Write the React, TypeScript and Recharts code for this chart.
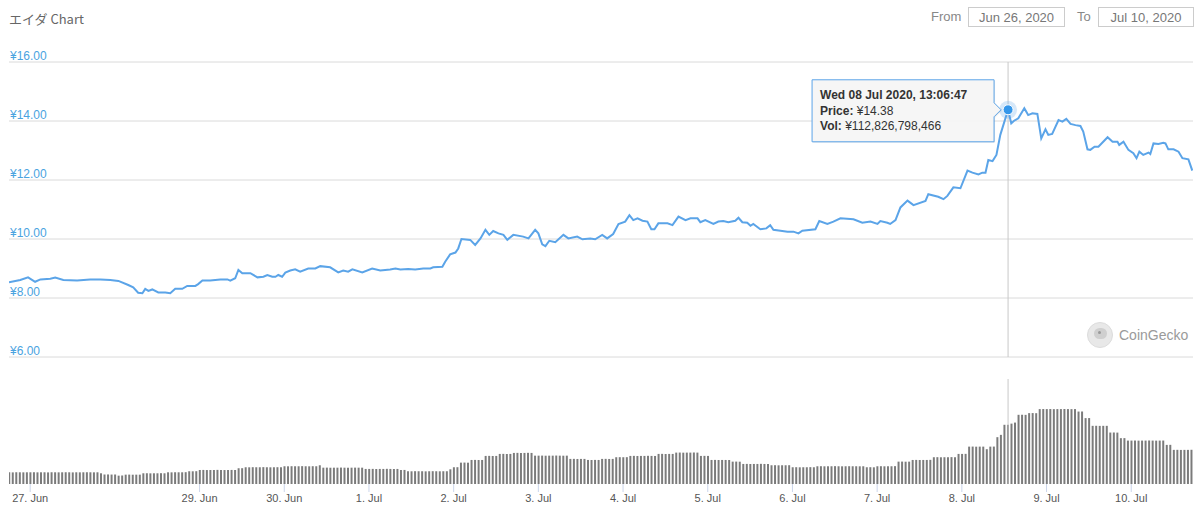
import React from 'react';
import { LineChart, Line, BarChart, Bar, XAxis, YAxis, CartesianGrid, ReferenceLine, ReferenceDot } from 'recharts';

// hours counted from 26 Jun 2020 00:00
const priceHours = [
  18, 21.2, 23.4, 25.4, 26.9, 29.7, 31.1, 33.4, 37.3, 41.0,
  43.9, 46.7, 49.0, 51.8, 53.2, 54.6, 55.8, 56.6, 57.5, 58.6,
  60.3, 62.3, 63.7, 65.1, 67.1, 68.5, 70.8, 71.6, 72.8, 75.0,
  77.9, 79.9, 80.7, 82.1, 83.0, 84.1, 86.4, 88.4, 90.1, 91.2,
  92.6, 93.5, 94.3, 95.4, 96.3, 97.7, 99.1, 100.5, 102.8, 104.8,
  106.2, 109.0, 111.3, 112.7, 114.1, 115.3, 118.1, 120.9, 123.2, 126.0,
  127.5, 128.9, 131.1, 133.1, 135.4, 137.4, 138.2, 140.8, 141.6, 143.0,
  144.5, 145.3, 146.2, 148.7, 150.1, 151.6, 153.0, 154.1, 155.2, 156.7,
  158.1, 159.2, 160.9, 163.7, 165.2, 167.1, 168.0, 169.1, 170.0, 171.1,
  172.8, 175.1, 176.5, 179.0, 180.5, 182.7, 184.1, 186.1, 187.5, 189.2,
  190.7, 192.6, 193.8, 194.9, 196.1, 197.5, 198.9, 200.0, 200.9, 202.0,
  204.6, 206.0, 207.7, 209.7, 211.1, 213.1, 213.9, 215.3, 217.6, 219.0,
  220.4, 221.8, 223.8, 224.7, 225.8, 227.2, 228.1, 228.9, 230.9, 232.6,
  233.7, 234.6, 236.6, 238.6, 240.3, 241.7, 242.8, 246.5, 247.6, 249.9,
  251.6, 253.6, 257.3, 259.8, 262.1, 264.1, 264.9, 266.9, 267.7, 269.2,
  270.6, 272.6, 274.3, 277.7, 278.5, 281.3, 282.8, 283.9, 285.6, 287.6,
  289.6, 291.0, 292.7, 293.8, 294.7, 295.5, 296.7, 297.8, 298.9, 301.1,
  302.0, 302.8, 304.0, 305.7, 306.8, 308.0, 309.4, 310.5, 311.7, 312.5,
  313.6, 315.4, 316.5, 317.6, 318.8, 320.2, 321.6, 322.4, 323.6, 324.4,
  325.6, 326.7, 329.3, 330.7, 332.1, 332.6, 333.8, 335.2, 336.6, 337.5,
  338.3, 339.4, 340.9, 341.4, 342.3, 343.7, 345.1, 345.7, 346.5, 348.0,
  349.4, 350.5, 352.2, 353.3,
];

const priceValues = [
  8.53, 8.61, 8.70, 8.55, 8.63, 8.65, 8.69, 8.61, 8.59, 8.63,
  8.63, 8.61, 8.58, 8.44, 8.36, 8.18, 8.16, 8.31, 8.24, 8.29,
  8.19, 8.19, 8.16, 8.31, 8.31, 8.41, 8.41, 8.47, 8.59, 8.59,
  8.63, 8.63, 8.59, 8.67, 8.95, 8.84, 8.84, 8.70, 8.72, 8.78,
  8.72, 8.72, 8.78, 8.72, 8.86, 8.93, 8.97, 8.89, 9.00, 9.00,
  9.08, 9.04, 8.87, 8.93, 8.89, 8.97, 8.87, 9.00, 8.93, 8.97,
  9.00, 8.97, 8.98, 8.97, 9.00, 9.00, 9.04, 9.06, 9.23, 9.48,
  9.54, 9.68, 10.00, 9.97, 9.80, 10.02, 10.31, 10.14, 10.27, 10.19,
  10.14, 9.97, 10.14, 10.08, 10.02, 10.31, 10.19, 9.82, 9.76, 9.94,
  9.89, 10.14, 10.02, 10.08, 9.99, 10.02, 9.99, 10.14, 10.02, 10.17,
  10.51, 10.59, 10.81, 10.64, 10.70, 10.62, 10.59, 10.33, 10.33, 10.53,
  10.53, 10.47, 10.76, 10.64, 10.70, 10.70, 10.57, 10.64, 10.51, 10.59,
  10.61, 10.57, 10.62, 10.72, 10.57, 10.55, 10.45, 10.51, 10.33, 10.36,
  10.47, 10.31, 10.28, 10.25, 10.25, 10.19, 10.28, 10.33, 10.61, 10.51,
  10.59, 10.70, 10.67, 10.55, 10.59, 10.51, 10.61, 10.55, 10.51, 10.64,
  11.07, 11.30, 11.15, 11.29, 11.52, 11.43, 11.35, 11.46, 11.75, 11.72,
  12.32, 12.25, 12.19, 12.25, 12.25, 12.68, 12.64, 12.85, 13.53, 14.38,
  13.92, 14.01, 14.09, 14.43, 14.20, 14.26, 14.24, 13.41, 13.72, 13.53,
  13.56, 14.03, 13.98, 14.07, 13.90, 13.86, 13.83, 13.64, 13.04, 13.02,
  13.13, 13.13, 13.45, 13.30, 13.30, 13.19, 13.30, 13.02, 12.91, 12.74,
  12.96, 12.85, 12.93, 12.88, 13.24, 13.22, 13.26, 13.24, 13.04, 13.04,
  12.96, 12.74, 12.70, 12.32,
];

// hourly volume in billions of yen, first bar at hour 18
const volumeStartHour = 18;
const volumeValues = [
  22.3, 22.1, 22.4, 22.3, 22.2, 22.3,
  22.3, 22.4, 22.2, 22.3, 22.3, 22.1, 22.4, 22.3, 22.2, 22.3, 22.4, 22.3, 22.1, 22.3, 22.2, 22.3, 22.4, 22.3, 22.2, 22.3, 20.4, 18.1, 18.2, 18.0,
  18.1, 15.9, 16.2, 17.8, 17.9, 17.7, 17.8, 17.8, 20.4, 20.5, 20.3, 20.4, 20.4, 20.6, 20.4, 22.3, 22.2, 22.4, 22.3, 22.3, 22.5, 24.3, 24.2, 24.4,
  26.7, 26.8, 26.6, 26.7, 26.7, 26.9, 26.7, 26.6, 26.7, 26.8, 26.7, 30.0, 30.1, 31.9, 31.8, 32.0, 31.9, 31.9, 32.1, 31.9, 31.8, 31.9, 32.0, 31.9,
  33.8, 33.7, 33.9, 33.8, 33.8, 34.0, 33.8, 33.7, 33.9, 33.8, 35.7, 31.1, 31.2, 31.0, 31.1, 31.1, 31.3, 31.1, 31.0, 31.1, 31.2, 31.1, 31.1, 28.7,
  28.7, 28.8, 28.6, 28.7, 28.7, 28.9, 28.7, 28.6, 28.7, 26.7, 26.8, 24.3, 24.2, 24.4, 24.3, 24.3, 24.1, 24.3, 24.4, 24.3, 24.2, 24.3, 24.3, 28.0,
  31.9, 32.0, 40.7, 40.8, 40.6, 45.8, 45.9, 45.7, 45.8, 53.5, 53.6, 53.4, 53.5, 57.3, 57.4, 57.2, 57.3, 59.2, 59.3, 59.1, 59.2, 59.4, 59.2, 54.0,
  54.0, 54.1, 53.9, 54.0, 54.0, 54.2, 54.0, 53.9, 54.0, 47.8, 47.9, 47.7, 47.8, 47.8, 45.8, 45.7, 45.9, 45.8, 47.8, 47.9, 47.7, 47.8, 51.0, 51.1,
  51.0, 51.1, 53.5, 53.6, 53.4, 53.5, 53.5, 53.7, 53.5, 53.4, 57.3, 57.4, 57.2, 57.3, 57.3, 59.8, 59.9, 59.7, 59.8, 59.8, 60.0, 59.8, 53.5, 53.6,
  53.5, 45.8, 45.9, 45.7, 45.8, 45.8, 45.7, 42.6, 42.7, 42.5, 38.2, 38.3, 38.1, 38.2, 38.2, 38.4, 38.2, 38.1, 35.7, 35.8, 35.6, 35.7, 35.7, 35.8,
  31.9, 32.0, 31.8, 31.9, 31.9, 32.1, 31.9, 33.8, 33.9, 33.7, 33.8, 33.8, 34.0, 33.8, 33.7, 33.8, 33.9, 33.8, 33.8, 33.7, 33.8, 31.9, 32.0, 31.8,
  33.8, 33.9, 33.7, 33.8, 33.8, 34.0, 42.6, 42.7, 42.5, 42.6, 45.8, 45.9, 45.7, 45.8, 45.8, 46.0, 51.0, 51.1, 50.9, 51.0, 51.0, 51.2, 51.0, 57.3,
  57.3, 57.4, 71.2, 71.3, 71.1, 71.2, 71.2, 66.3, 71.2, 71.3, 89.2, 93.6, 112.8, 112.8, 115.0, 117.0, 131.8, 131.9, 131.7, 135.0, 135.1, 134.9, 142.7, 142.8,
  142.7, 142.8, 142.6, 142.7, 142.7, 142.9, 142.7, 142.6, 142.7, 138.0, 138.1, 125.5, 125.6, 110.8, 110.9, 110.7, 110.8, 110.8, 98.0, 98.1, 97.9, 87.3, 87.4, 82.7,
  82.7, 82.8, 82.6, 82.7, 82.7, 82.9, 82.7, 82.6, 82.7, 82.8, 74.5, 74.6, 65.0, 65.1, 64.9, 65.0, 65.0, 65.2,
];

const tickHours = [24, 72, 96, 120, 144, 168, 192, 216, 240, 264, 288, 312, 336];
const tickLabels = ['27. Jun', '29. Jun', '30. Jun', '1. Jul', '2. Jul', '3. Jul', '4. Jul', '5. Jul', '6. Jul', '7. Jul', '8. Jul', '9. Jul', '10. Jul'];
const priceTicks = [6, 8, 10, 12, 14, 16];

const hover = { hour: 301.1, price: 14.38, label: 'Wed 08 Jul 2020, 13:06:47', vol: '¥112,826,798,466' };

const priceData = priceHours.map((h, i) => ({ h, price: priceValues[i] }));
const volumeData = volumeValues.map((v, i) => ({ h: volumeStartHour + i, v }));

const font = "'Liberation Sans', Arial, sans-serif";
const lineColor = '#5ba4e8';
const xDomain = [18, 353.5];

const priceLabel = (value: number) => (props: any) => {
  const vb = props.viewBox || {};
  return (
    <text x={(vb.x ?? 9) + 1} y={(vb.y ?? 0) - 2} fill="#4aa3df" fontSize={12} fontFamily={font}>
      {`¥${value.toFixed(2)}`}
    </text>
  );
};

const HoverMarker = (props: any) => {
  const { cx, cy } = props;
  const left = cx - 196;
  const right = cx - 14;
  return (
    <g>
      <circle cx={cx} cy={cy} r={9} fill={lineColor} opacity={0.25} />
      <circle cx={cx} cy={cy} r={5} fill="#3597ea" stroke="#fff" strokeWidth={1} />
      <path
        d={`M${left + 1},${cy - 29} L${right + 1},${cy - 29} L${right + 1},${cy - 6} L${cx - 6},${cy + 1} L${right + 1},${cy + 8} L${right + 1},${cy + 33} L${left + 1},${cy + 33} Z`}
        fill="#000"
        opacity={0.08}
      />
      <path
        d={`M${left},${cy - 30} L${right},${cy - 30} L${right},${cy - 7} L${cx - 7},${cy} L${right},${cy + 7} L${right},${cy + 32} L${left},${cy + 32} Z`}
        fill="#f7f7f7"
        fillOpacity={0.95}
        stroke={lineColor}
        strokeWidth={1}
      />
      <text x={left + 8} y={cy - 11} fontSize={12} fontFamily={font} fill="#333" fontWeight="bold">
        {hover.label}
      </text>
      <text x={left + 8} y={cy + 5} fontSize={12} fontFamily={font} fill="#333">
        <tspan fontWeight="bold">Price:</tspan> ¥{hover.price.toFixed(2)}
      </text>
      <text x={left + 8} y={cy + 20} fontSize={12} fontFamily={font} fill="#333">
        <tspan fontWeight="bold">Vol:</tspan> {hover.vol}
      </text>
    </g>
  );
};

const boxStyle: React.CSSProperties = {
  position: 'absolute',
  top: 7,
  height: 20,
  border: '1px solid #cccccc',
  boxSizing: 'border-box',
  fontSize: 13,
  color: '#777',
  lineHeight: '19px',
  textAlign: 'center',
};

export default function App() {
  return (
    <div style={{ position: 'absolute', left: 0, top: 0, width: 1200, height: 515, background: '#fff', fontFamily: font, overflow: 'hidden' }}>
      <div style={{ position: 'absolute', left: 9, top: 10, fontSize: 13, color: '#666', fontFamily: "'Noto Sans CJK JP', 'Liberation Sans', sans-serif", lineHeight: '18px' }}>
        エイダ Chart
      </div>
      <div style={{ position: 'absolute', left: 931, top: 8, fontSize: 13, color: '#888', lineHeight: '18px' }}>From</div>
      <div style={{ ...boxStyle, left: 968, width: 97 }}>Jun 26, 2020</div>
      <div style={{ position: 'absolute', left: 1077, top: 8, fontSize: 13, color: '#888', lineHeight: '18px' }}>To</div>
      <div style={{ ...boxStyle, left: 1098, width: 96 }}>Jul 10, 2020</div>

      <div style={{ position: 'absolute', left: 0, top: 0 }}>
        <LineChart width={1200} height={370} data={priceData} margin={{ top: 62, right: 7, bottom: 13, left: 9 }}>
          <CartesianGrid horizontal vertical={false} stroke="#e6e6e6" />
          <XAxis dataKey="h" type="number" domain={xDomain} hide allowDataOverflow />
          <YAxis hide domain={[6, 16]} ticks={priceTicks} />
          {priceTicks.map((t) => (
            <ReferenceLine key={t} y={t} stroke="#e6e6e6" label={priceLabel(t)} />
          ))}
          <ReferenceLine x={hover.hour} stroke="#c8c8c8" strokeWidth={1} />
          <Line type="linear" dataKey="price" stroke={lineColor} strokeWidth={2} dot={false} isAnimationActive={false} />
          <ReferenceDot x={hover.hour} y={hover.price} shape={<HoverMarker />} />
        </LineChart>
      </div>

      <div style={{ position: 'absolute', left: 1087, top: 322, width: 26, height: 26, borderRadius: 13, background: '#e8e8e8', border: '1px solid #dcdcdc', boxSizing: 'border-box' }}>
        <div style={{ position: 'absolute', left: 6, top: 5, width: 13, height: 11, borderRadius: 6, background: '#cfcfcf' }} />
        <div style={{ position: 'absolute', left: 10, top: 8, width: 3, height: 3, borderRadius: 2, background: '#999' }} />
      </div>
      <div style={{ position: 'absolute', left: 1119, top: 326, fontSize: 14, color: '#9a9a9a', lineHeight: '18px' }}>CoinGecko</div>

      <div style={{ position: 'absolute', left: 0, top: 370 }}>
        <BarChart width={1200} height={145} data={volumeData} margin={{ top: 9, right: 7, bottom: 0, left: 9 }}>
          <XAxis
            dataKey="h"
            type="number"
            domain={xDomain}
            allowDataOverflow
            ticks={tickHours}
            interval={0}
            tickFormatter={(h: number) => tickLabels[tickHours.indexOf(h)]}
            axisLine={false}
            tickLine={{ stroke: '#ccd6eb' }}
            tickSize={8}
            tickMargin={2}
            height={31}
            tick={{ fill: '#555', fontSize: 11, fontFamily: font }}
          />
          <YAxis hide domain={[0, 200]} />
          <Bar dataKey="v" fill="#7b7b7b" barSize={2} isAnimationActive={false} />
          <ReferenceLine x={hover.hour} stroke="#c8c8c8" strokeWidth={1} />
        </BarChart>
      </div>
    </div>
  );
}
